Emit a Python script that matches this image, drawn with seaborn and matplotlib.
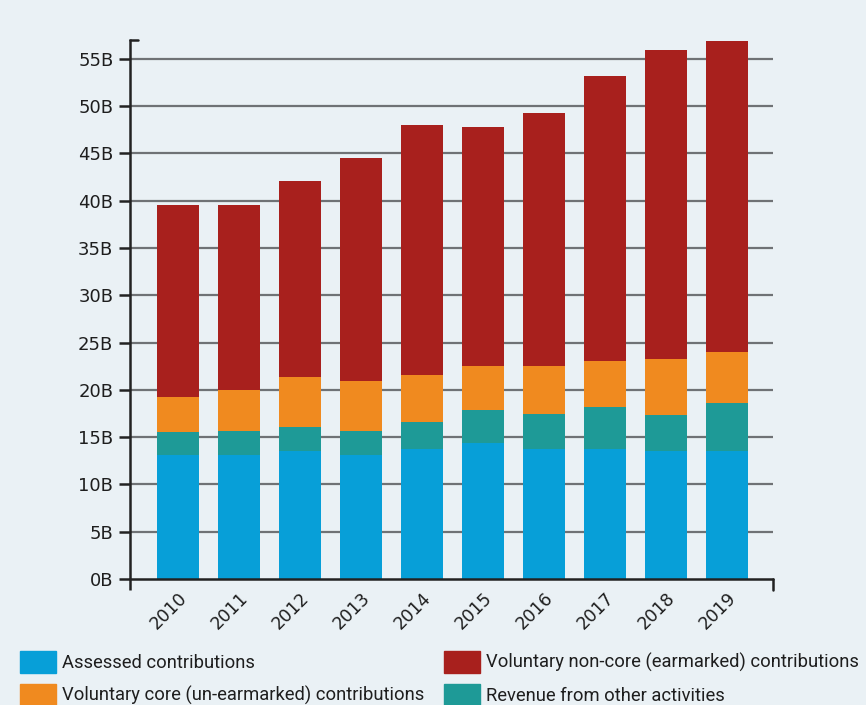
import matplotlib
matplotlib.use("Agg")
import matplotlib.pyplot as plt
import seaborn as sns
import pandas as pd
import numpy as np
from matplotlib.patches import Patch

years = ["2010", "2011", "2012", "2013", "2014", "2015", "2016", "2017", "2018", "2019"]
assessed = [13.1, 13.1, 13.5, 13.1, 13.75, 14.4, 13.8, 13.8, 13.5, 13.5]
other_revenue = [2.4, 2.55, 2.6, 2.6, 2.85, 3.5, 3.7, 4.4, 3.8, 5.15]
core = [3.7, 4.35, 5.3, 5.2, 5.0, 4.6, 5.0, 4.85, 6.0, 5.35]
earmarked = [20.4, 19.6, 20.7, 23.65, 26.45, 25.35, 26.75, 30.15, 32.65, 32.9]
yticks = [0, 5, 10, 15, 20, 25, 30, 35, 40, 45, 50, 55]

series_names = ["Assessed contributions", "Revenue from other activities",
                "Voluntary core (un-earmarked) contributions",
                "Voluntary non-core (earmarked) contributions"]
series_vals = [assessed, other_revenue, core, earmarked]
colors = {"Assessed contributions": "#079fd8",
          "Revenue from other activities": "#1e9a97",
          "Voluntary core (un-earmarked) contributions": "#f08a1f",
          "Voluntary non-core (earmarked) contributions": "#a8201d"}

bg = "#eaf1f5"
sns.set_theme(style="white")
plt.rcParams['font.family'] = ['DejaVu Sans']

fig = plt.figure(figsize=(8.66, 7.05), dpi=100, facecolor=bg)
ax = fig.add_axes([130/866, 126/705, (773-130)/866, (579-40)/705])
ax.set_facecolor(bg)

for t in yticks[1:]:
    ax.axhline(t, color="#6f7275", lw=1.6, zorder=0)

# cumulative tops; draw tallest first so lower segments sit on top
cums = []
running = np.zeros(len(years))
for vals in series_vals:
    running = running + np.array(vals)
    cums.append(running.copy())

for i in range(len(series_names) - 1, -1, -1):
    name = series_names[i]
    df = pd.DataFrame({"year": years, "value": cums[i]})
    sns.barplot(data=df, x="year", y="value", color=colors[name], ax=ax,
                width=0.70, saturation=1, linewidth=0, edgecolor="none",
                zorder=2 + (len(series_names) - i))

ax.set_xlim(-0.787, 9.754)
ax.set_ylim(0, 57)
ax.set_xlabel("")
ax.set_ylabel("")
ax.set_yticks(yticks)
ax.set_yticklabels([f"{t}B" for t in yticks])
ax.tick_params(axis="y", length=8, width=1.8, color="#222222", labelsize=13,
               labelcolor="#1e1e1e", pad=4, left=True)
ax.tick_params(axis="x", length=0, labelsize=12.5, labelcolor="#1e1e1e", pad=7)
for lab in ax.get_xticklabels():
    lab.set_rotation(45)
    lab.set_ha("right")
    lab.set_rotation_mode("anchor")

for s in ["top", "right", "bottom", "left"]:
    ax.spines[s].set_visible(False)
ax.plot([0, 0], [-0.02, 1.002], transform=ax.transAxes, color="#222222", lw=1.8,
        clip_on=False, zorder=10, solid_capstyle="butt")
ax.plot([0, 0.012], [1.0, 1.0], transform=ax.transAxes, color="#222222", lw=1.8,
        clip_on=False, zorder=10)
ax.plot([0, 1], [0, 0], transform=ax.transAxes, color="#222222", lw=1.8,
        clip_on=False, zorder=10)
ax.plot([1, 1], [0, -0.02], transform=ax.transAxes, color="#222222", lw=1.8,
        clip_on=False, zorder=10)

handles = [Patch(color=colors["Assessed contributions"]),
           Patch(color=colors["Voluntary core (un-earmarked) contributions"]),
           Patch(color=colors["Voluntary non-core (earmarked) contributions"]),
           Patch(color=colors["Revenue from other activities"])]
labels = ["Assessed contributions", "Voluntary core (un-earmarked) contributions",
          "Voluntary non-core (earmarked) contributions", "Revenue from other activities"]
leg = fig.legend(handles, labels, ncol=2, loc="upper left",
                 bbox_to_anchor=(20/866, 1 - 651/705), frameon=False,
                 borderaxespad=0, borderpad=0,
                 handlelength=1.95, handleheight=1.45, handletextpad=0.33,
                 columnspacing=1.1, labelspacing=0.6,
                 prop={"family": ["Roboto", "DejaVu Sans"], "size": 13.2})
for t in leg.get_texts():
    t.set_color("#1e1e1e")

fig.savefig("out.png", dpi=100, facecolor=bg)
